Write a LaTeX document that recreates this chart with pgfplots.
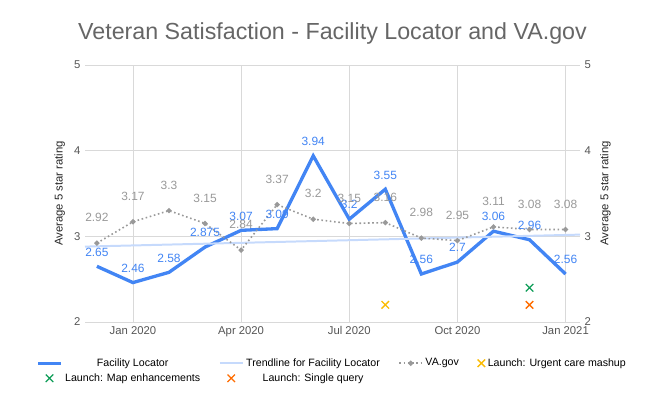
\documentclass[border=0pt]{standalone}
\usepackage{pgfplots}
\pgfplotsset{compat=1.18}
\usepackage{fontspec}
\setmainfont{Liberation Sans}
\definecolor{fl}{HTML}{4285F4}
\definecolor{tr}{HTML}{C6DAFC}
\definecolor{va}{HTML}{999999}
\definecolor{txt}{HTML}{555555}
\begin{document}
\begin{tikzpicture}
\path[use as bounding box] (0bp,0bp) rectangle (495.75bp,303bp);
\begin{axis}[at={(63.75bp,61.5bp)},anchor=south west,scale only axis,width=371.25bp,height=192.75bp,
 xmin=-0.33,xmax=13.4,ymin=2,ymax=5,
 xtick={1,4,7,10,13},xticklabels={Jan 2020,Apr 2020,Jul 2020,Oct 2020,Jan 2021},
 ytick={2,3,4,5},
 /pgf/number format/assume math mode=true,
 grid=major,grid style={draw=black!15},
 axis line style={draw=none},tick style={draw=none},
 axis y line*=left,
 tick label style={font=\fontsize{8.5}{10}\selectfont,text=txt},
 ylabel={Average 5 star rating},ylabel style={font=\fontsize{8.5}{10}\selectfont,text=black!85},
 title={Veteran Satisfaction - Facility Locator and VA.gov},
 title style={font=\fontsize{17.5}{20}\selectfont,text=black!60,yshift=6bp},
 legend columns=4,
 legend style={at={(0.5,-0.12)},anchor=north,draw=none,font=\fontsize{8}{10}\selectfont,/tikz/every even column/.append style={column sep=12bp}},
 nodes near coords style={font=\fontsize{9}{10}\selectfont},
 clip=false]
\addplot[fl,line width=2.5pt,mark=none,nodes near coords,point meta=explicit symbolic,nodes near coords style={text=fl,anchor=south,yshift=3bp}] coordinates {
(0,2.65)[2.65](1,2.46)[2.46](2,2.58)[2.58](3,2.875)[2.875](4,3.07)[3.07](5,3.09)[3.09](6,3.94)[3.94](7,3.2)[3.2](8,3.55)[3.55](9,2.56)[2.56](10,2.7)[2.7](11,3.06)[3.06](12,2.96)[2.96](13,2.56)[2.56]};
\addplot[tr,line width=1.5pt] coordinates {(-0.33,2.88)(13.4,3.02)};
\addplot[va,line width=1.2pt,dotted,mark=*,mark size=1.3pt,mark options={solid},nodes near coords,point meta=explicit symbolic,nodes near coords style={text=va,anchor=south,yshift=12bp}] coordinates {
(0,2.92)[2.92](1,3.17)[3.17](2,3.3)[3.3](3,3.15)[3.15](4,2.84)[2.84](5,3.37)[3.37](6,3.2)[3.2](7,3.15)[3.15](8,3.16)[3.16](9,2.98)[2.98](10,2.95)[2.95](11,3.11)[3.11](12,3.08)[3.08](13,3.08)[3.08]};
\addplot[only marks,mark=x,mark size=4pt,line width=1pt,draw={rgb,255:red,251;green,188;blue,4}] coordinates {(8,2.2)};
\addplot[only marks,mark=x,mark size=4pt,line width=1pt,draw={rgb,255:red,15;green,157;blue,88}] coordinates {(12,2.4)};
\addplot[only marks,mark=x,mark size=4pt,line width=1pt,draw={rgb,255:red,255;green,109;blue,0}] coordinates {(12,2.2)};
\legend{Facility Locator,Trendline for Facility Locator,VA.gov,Launch: Urgent care mashup,Launch: Map enhancements,Launch: Single query}
\end{axis}
\begin{axis}[at={(63.75bp,61.5bp)},anchor=south west,scale only axis,width=371.25bp,height=192.75bp,
 xmin=-0.33,xmax=13.4,ymin=2,ymax=5,ytick={2,3,4,5},xtick=\empty,
 /pgf/number format/assume math mode=true,
 axis y line*=right,axis x line=none,axis line style={draw=none},tick style={draw=none},
 tick label style={font=\fontsize{8.5}{10}\selectfont,text=txt},
 ylabel={Average 5 star rating},ylabel style={font=\fontsize{8.5}{10}\selectfont,text=black!85}]
\addplot[draw=none] coordinates {(0,3)};
\end{axis}
\end{tikzpicture}
\end{document}
